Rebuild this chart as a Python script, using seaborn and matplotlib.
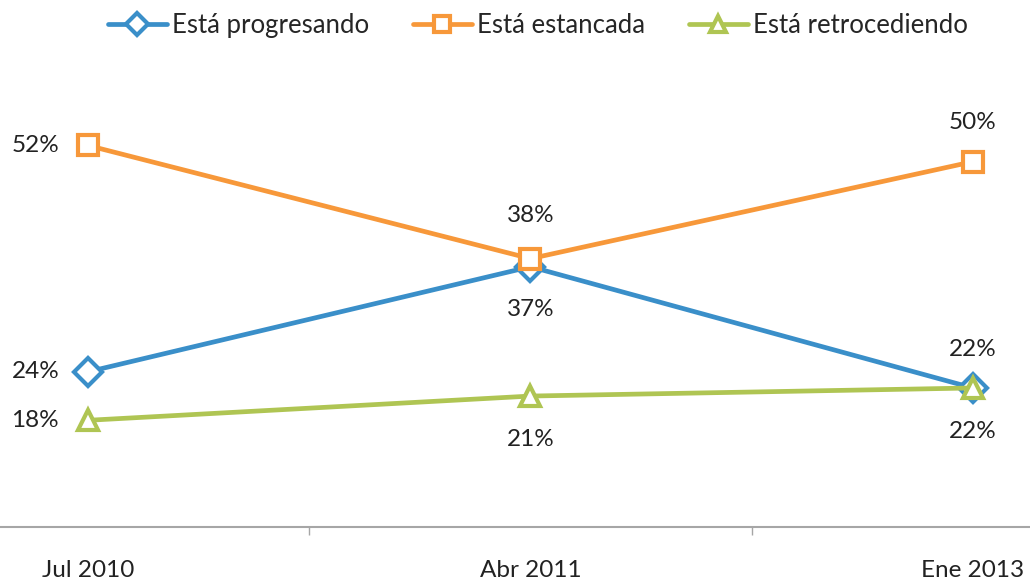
import pandas as pd
import matplotlib
matplotlib.use("Agg")
import matplotlib.pyplot as plt
import seaborn as sns

periodos = ["Jul 2010", "Abr 2011", "Ene 2013"]
series = ["Está progresando", "Está estancada", "Está retrocediendo"]
progresando = [24, 37, 22]
estancada = [52, 38, 50]
retrocediendo = [18, 21, 22]

colores = {"Está progresando": "#3A8FC9", "Está estancada": "#F7983A", "Está retrocediendo": "#AFC553"}
marcas = {"Está progresando": "D", "Está estancada": "s", "Está retrocediendo": "^"}

df = pd.DataFrame({
    "periodo": periodos * 3,
    "x": list(range(3)) * 3,
    "valor": progresando + estancada + retrocediendo,
    "serie": [s for s in series for _ in periodos],
})

sns.set_style("white")
plt.rcParams["font.family"] = ["Lato", "DejaVu Sans"]

fig = plt.figure(figsize=(10.3, 5.86), dpi=100)
ax = fig.add_axes([0, 0.1007, 1, 0.8993])

sns.lineplot(data=df, x="x", y="valor", hue="serie", style="serie",
             palette=colores, markers=marcas, dashes=False, linewidth=3.4,
             markersize=14, markerfacecolor="white", markeredgewidth=3,
             ax=ax, legend=True)
for ln in ax.lines:
    ln.set_markeredgecolor(ln.get_color())

# etiquetas de datos: (dx, dy) en puntos
pos = {
    "Está progresando": [(-38, 0), (0, -31), (0, 28)],
    "Está estancada": [(-38, 0), (0, 31), (0, 28)],
    "Está retrocediendo": [(-38, 0), (0, -31), (0, -31)],
}
for s, vals in zip(series, [progresando, estancada, retrocediendo]):
    for i, v in enumerate(vals):
        ax.annotate(f"{v}%", (i, v), xytext=pos[s][i], textcoords="offset points",
                    ha="center", va="center", fontsize=17.5, color="#222222")

ax.set_xlim(-0.199, 2.129)
ax.set_ylim(4.8, 70)
ax.set_xticks([0.5, 1.5])
ax.set_xticks([0, 1, 2], minor=True)
ax.set_xticklabels(periodos, minor=True)
ax.set_xticklabels([])
ax.tick_params(axis="x", which="major", length=6, color="#A6A6A6", width=1, direction="out", bottom=True)
ax.tick_params(axis="x", which="minor", length=0, pad=24, labelsize=17.5, labelcolor="#222222")
ax.set_yticks([])
ax.set_xlabel("")
ax.set_ylabel("")
for k in ["top", "left", "right"]:
    ax.spines[k].set_visible(False)
ax.spines["bottom"].set_color("#A6A6A6")
ax.spines["bottom"].set_linewidth(1.5)

h, l = ax.get_legend_handles_labels()
for hh in h:
    hh.set_markerfacecolor("white")
    hh.set_markeredgecolor(hh.get_color())
    hh.set_markersize(11)
ax.legend(h, l, loc="upper center", bbox_to_anchor=(0.522, 0.995), ncol=3, frameon=False,
          fontsize=18.5, handlelength=2.3, columnspacing=1.7, handletextpad=0.2,
          borderaxespad=0.0)

fig.savefig("out.png", dpi=100)
